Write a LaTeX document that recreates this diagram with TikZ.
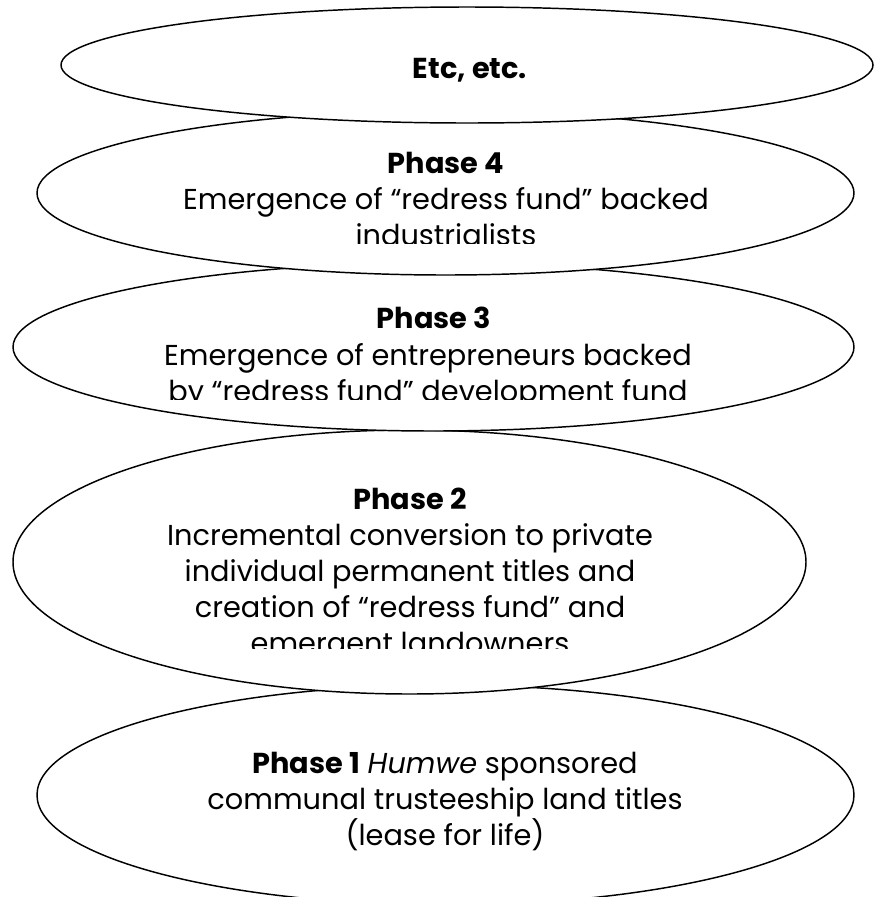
\documentclass[tikz,border=0pt]{standalone}
\usepackage{fontspec}
\setmainfont{Poppins}
\usetikzlibrary{shapes.geometric}
\begin{document}
\begin{tikzpicture}[x=0.75pt,y=-0.75pt,
  phase/.style={ellipse, draw=black, line width=1.1pt, fill=white, inner sep=0pt, outer sep=0pt},
  lbl/.style={anchor=base, inner sep=0pt, font=\fontsize{21.6}{26}\selectfont}]
\useasboundingbox (0,0) rectangle (874,897);
\clip (0,0) rectangle (874,897);
% Phase 1
\node[phase, minimum width=612.75pt, minimum height=165pt] (p1) at (445.5,795) {};
\node[lbl] (p1a) at (445,773) {\textbf{Phase 1} \textit{Humwe} sponsored};
\node[lbl] (p1b) at (445,809) {communal trusteeship land titles};
\node[lbl] (p1c) at (445,845) {(lease for life)};
% Phase 2
\node[phase, minimum width=594.75pt, minimum height=198pt] (p2) at (409.5,562) {};
\begin{scope}
\clip (0,440) rectangle (874,648);
\node[lbl] (p2a) at (410,509) {\textbf{Phase 2}};
\node[lbl] (p2b) at (410,545) {Incremental conversion to private};
\node[lbl] (p2c) at (410,581) {individual permanent titles and};
\node[lbl] (p2d) at (410,617) {creation of “redress fund” and};
\node[lbl] (p2e) at (410,653) {emergent landowners};
\end{scope}
% Phase 3
\node[phase, minimum width=630.75pt, minimum height=126pt] (p3) at (433.5,347) {};
\begin{scope}
\clip (0,280) rectangle (874,399);
\node[lbl] (p3a) at (434,328) {\textbf{Phase 3}};
\node[lbl] (p3b) at (428,365) {Emergence of entrepreneurs backed};
\node[lbl] (p3c) at (428,401) {by “redress fund” development fund};
\end{scope}
% Phase 4
\node[phase, minimum width=612.75pt, minimum height=123pt] (p4) at (445.5,193) {};
\begin{scope}
\clip (0,130) rectangle (874,243);
\node[lbl] (p4a) at (446,173) {\textbf{Phase 4}};
\node[lbl] (p4b) at (446,209) {Emergence of “redress fund” backed};
\node[lbl] (p4c) at (446,245) {industrialists};
\end{scope}
% Etc
\node[phase, minimum width=609pt, minimum height=87pt] (e) at (467,65) {};
\node[lbl] (ea) at (470,78) {\textbf{Etc, etc.}};
\end{tikzpicture}
\end{document}
